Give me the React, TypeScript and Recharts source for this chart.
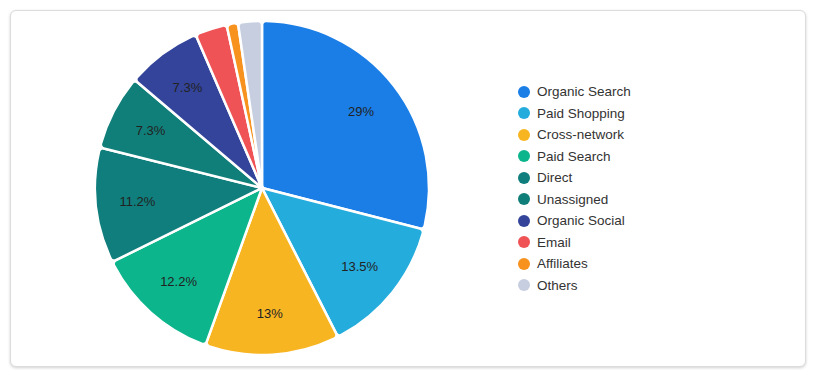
import React from 'react';
import { PieChart, Pie, Cell } from 'recharts';

const channels = ['Organic Search', 'Paid Shopping', 'Cross-network', 'Paid Search', 'Direct', 'Unassigned', 'Organic Social', 'Email', 'Affiliates', 'Others'];
const shares = [29, 13.5, 13, 12.2, 11.2, 7.3, 7.3, 3.1, 1.1, 2.3];
const COLORS = ['#1a7ee6', '#24acdc', '#f8b522', '#0db58c', '#0f7e7c', '#117f79', '#33449a', '#ef5355', '#f7921f', '#c6cee0'];

const data = channels.map((name, i) => ({ name, value: shares[i] }));

const RADIAN = Math.PI / 180;

const renderLabel = ({ cx, cy, midAngle, outerRadius, value }: any) => {
  if (value < 5) return null;
  const r = outerRadius * 0.75;
  const x = cx + r * Math.cos(-midAngle * RADIAN);
  const y = cy + r * Math.sin(-midAngle * RADIAN);
  return (
    <text x={x} y={y} fill="#222" fontSize={13} textAnchor="middle" dominantBaseline="central">
      {`${value}%`}
    </text>
  );
};

const App: React.FC = () => {
  return (
    <div style={{ position: 'absolute', left: 0, top: 0, width: 816, height: 376, background: '#fff', fontFamily: '"Liberation Sans", Arial, sans-serif' }}>
      <div
        style={{
          position: 'absolute',
          left: 10,
          top: 10,
          width: 794,
          height: 355,
          border: '1px solid #dcdcdc',
          borderRadius: 6,
          boxShadow: '0 1px 3px rgba(0,0,0,0.18)',
          background: '#fff',
        }}
      >
        <PieChart width={794} height={355}>
          <Pie
            data={data}
            dataKey="value"
            nameKey="name"
            cx={246}
            cy={172}
            outerRadius={167}
            startAngle={90}
            endAngle={-270}
            stroke="#fff"
            strokeWidth={2.5}
            cornerRadius={4}
            label={renderLabel}
            labelLine={false}
            isAnimationActive={false}
          >
            {data.map((entry, index) => (
              <Cell key={`cell-${index}`} fill={COLORS[index]} />
            ))}
          </Pie>
        </PieChart>

        {/* legend */}
        <div style={{ position: 'absolute', left: 507, top: 70, display: 'flex', flexDirection: 'column' }}>
          {data.map((d, i) => (
            <div key={d.name} style={{ display: 'flex', alignItems: 'center', height: 21.5 }}>
              <span style={{ flexShrink: 0, width: 12, height: 12, borderRadius: 6, background: COLORS[i], marginRight: 7 }} />
              <span style={{ fontSize: 13.5, color: '#333', whiteSpace: 'nowrap' }}>{d.name}</span>
            </div>
          ))}
        </div>
      </div>
    </div>
  );
};

export default App;
